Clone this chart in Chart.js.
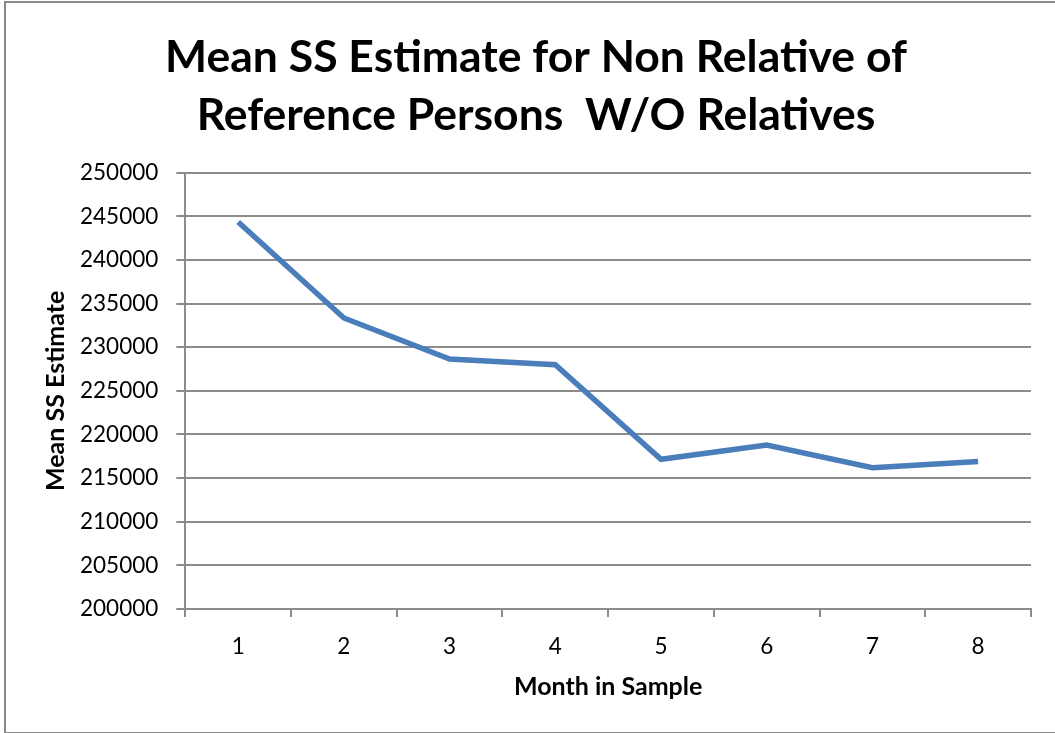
<!DOCTYPE html>
<html>
<head>
<meta charset="utf-8">
<script src="https://cdn.jsdelivr.net/npm/chart.js@4.4.1/dist/chart.umd.min.js"></script>
<style>
  html, body { margin: 0; padding: 0; background: #fff; overflow: hidden; }
  #frame {
    position: absolute; left: 4px; top: 1px;
    width: 1070px; height: 729px;
    border: 2px solid #8a8a8a;
  }
  #wrap { position: absolute; left: 0; top: 0; width: 1055px; height: 733px; }
</style>
</head>
<body>
<div id="frame"></div>
<div id="wrap"><canvas id="chart" width="1055" height="733"></canvas></div>
<script>
// data
const months = ["1", "2", "3", "4", "5", "6", "7", "8"];
const meanSS = [244350, 233350, 228650, 228000, 217150, 218800, 216200, 216900];
const yMin = 200000;
const yMax = 250000;
const yStep = 5000;

const fontFamily = "Lato, 'Open Sans', sans-serif";
const gridGray = "#8c8c8c";

const ctx = document.getElementById("chart").getContext("2d");

new Chart(ctx, {
  type: "line",
  data: {
    labels: months,
    datasets: [
      {
        label: "Mean SS Estimate",
        data: meanSS,
        borderColor: "#4a7ebb",
        borderWidth: 5.5,
        pointRadius: 0,
        tension: 0,
        fill: false,
      },
    ],
  },
  options: {
    responsive: false,
    animation: false,
    layout: {
      padding: { left: 41, right: 24, top: 29, bottom: 31 },
    },
    scales: {
      x: {
        offset: true,
        grid: {
          offset: true,
          drawOnChartArea: false,
          color: gridGray,
          lineWidth: 2,
          tickLength: 8,
        },
        border: { color: gridGray, width: 2 },
        ticks: {
          color: "#000",
          padding: 16,
          font: { family: fontFamily, size: 22.5 },
        },
        title: {
          display: true,
          text: "Month in Sample",
          color: "#000",
          padding: { top: -4, bottom: 0 },
          font: { family: fontFamily, size: 25, weight: "bold" },
        },
      },
      y: {
        min: yMin,
        max: yMax,
        ticks: {
          stepSize: yStep,
          color: "#000",
          padding: 18,
          font: { family: fontFamily, size: 22.5 },
          callback: (v) => String(v), // no thousands separator
        },
        grid: {
          color: gridGray,
          lineWidth: 2,
          tickLength: 9,
        },
        border: { color: gridGray, width: 2 },
        title: {
          display: true,
          text: "Mean SS Estimate",
          color: "#000",
          padding: { top: 0, bottom: -9 },
          font: { family: fontFamily, size: 25, weight: "bold" },
        },
      },
    },
    plugins: {
      legend: { display: false },
      tooltip: { enabled: false },
      title: {
        display: true,
        text: ["Mean SS Estimate for Non Relative of", "Reference Persons  W/O Relatives"],
        color: "#000",
        padding: { top: 0, bottom: 28 },
        font: { family: fontFamily, size: 44.5, weight: "bold", lineHeight: 1.3 },
      },
    },
  },
});
</script>
</body>
</html>
